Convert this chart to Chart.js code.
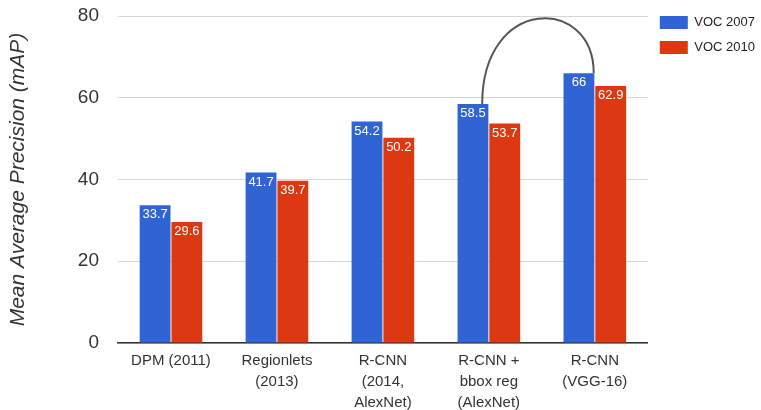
<!DOCTYPE html>
<html>
<head>
<meta charset="utf-8">
<script src="https://cdn.jsdelivr.net/npm/chart.js@4.4.1/dist/chart.umd.min.js"></script>
<style>
    html, body { margin: 0; padding: 0; background: #fff; }
    #wrap { width: 761px; height: 410px; }
</style>
</head>
<body>
<div id="wrap"><canvas id="myChart"></canvas></div>
<script>
const categories = [
    ["DPM (2011)"],
    ["Regionlets", "(2013)"],
    ["R-CNN", "(2014,", "AlexNet)"],
    ["R-CNN +", "bbox reg", "(AlexNet)"],
    ["R-CNN", "(VGG-16)"]
];
const voc2007 = [33.7, 41.7, 54.2, 58.5, 66];
const voc2010 = [29.6, 39.7, 50.2, 53.7, 62.9];
const yTicks = [0, 20, 40, 60, 80];

// arc drawn between the "bbox reg" and "VGG-16" VOC 2007 bars
const arcFrom = 3;
const arcTo = 4;
const arcPeak = 79.3;

const FONT = "'Liberation Sans', Arial, sans-serif";

// white value labels at the top of each bar
const valueLabels = {
    id: "valueLabels",
    afterDatasetsDraw(chart) {
        const ctx = chart.ctx;
        ctx.save();
        ctx.font = "13px " + FONT;
        ctx.fillStyle = "#fff";
        ctx.textAlign = "center";
        ctx.textBaseline = "top";
        chart.data.datasets.forEach((ds, i) => {
            chart.getDatasetMeta(i).data.forEach((bar, j) => {
                ctx.fillText(String(ds.data[j]), bar.x, bar.y + 3);
            });
        });
        ctx.restore();
    }
};

// the hand drawn arc
const arcLine = {
    id: "arcLine",
    afterDraw(chart) {
        const bars = chart.getDatasetMeta(0).data;
        const a = bars[arcFrom], b = bars[arcTo];
        const x1 = a.x + a.width * 0.3, y1 = a.y;
        const x2 = b.x + b.width * 0.48, y2 = b.y;
        const peak = chart.scales.y.getPixelForValue(arcPeak);
        const yc = (peak - 0.125 * (y1 + y2)) / 0.75;
        const ctx = chart.ctx;
        ctx.save();
        ctx.strokeStyle = "#555";
        ctx.lineWidth = 2;
        ctx.beginPath();
        ctx.moveTo(x1, y1);
        ctx.bezierCurveTo(x1, yc, x2, yc, x2, y2);
        ctx.stroke();
        ctx.restore();
    }
};

const ctx = document.getElementById("myChart").getContext("2d");

new Chart(ctx, {
    type: "bar",
    data: {
        labels: categories,
        datasets: [
            {
                label: "VOC 2007",
                data: voc2007,
                backgroundColor: "#3064d4",
                barPercentage: 0.97,
                categoryPercentage: 0.6
            },
            {
                label: "VOC 2010",
                data: voc2010,
                backgroundColor: "#dc3912",
                barPercentage: 0.97,
                categoryPercentage: 0.6
            }
        ]
    },
    plugins: [valueLabels, arcLine],
    options: {
        responsive: true,
        maintainAspectRatio: false,
        animation: false,
        layout: { padding: { top: 4, right: -4, bottom: 0, left: 0 } },
        plugins: {
            legend: {
                position: "right",
                align: "start",
                labels: {
                    boxWidth: 28,
                    boxHeight: 13,
                    padding: 12,
                    color: "#222",
                    font: { size: 13, family: FONT }
                }
            },
            tooltip: { enabled: false }
        },
        scales: {
            x: {
                afterFit(scale) {
                    scale.height = 67;
                },
                grid: { display: false, drawTicks: false },
                border: { color: "#333", width: 1.5 },
                ticks: {
                    color: "#333",
                    padding: 8,
                    maxRotation: 0,
                    autoSkip: false,
                    font: { size: 15, family: FONT, lineHeight: 1.38 }
                }
            },
            y: {
                min: 0,
                max: 80,
                afterBuildTicks(scale) {
                    scale.ticks = yTicks.map(v => ({ value: v }));
                },
                afterFit(scale) {
                    scale.width = 118;
                    scale.paddingTop = 16;
                },
                grid: { color: "#d6d6d6", drawTicks: false },
                border: { display: false },
                ticks: {
                    color: "#333",
                    padding: 19,
                    font: { size: 19, family: FONT }
                },
                title: {
                    display: true,
                    text: "Mean Average Precision (mAP)",
                    color: "#333",
                    padding: { top: 6, bottom: 0 },
                    font: { size: 21, family: FONT, style: "italic" }
                }
            }
        }
    }
});
</script>
</body>
</html>
